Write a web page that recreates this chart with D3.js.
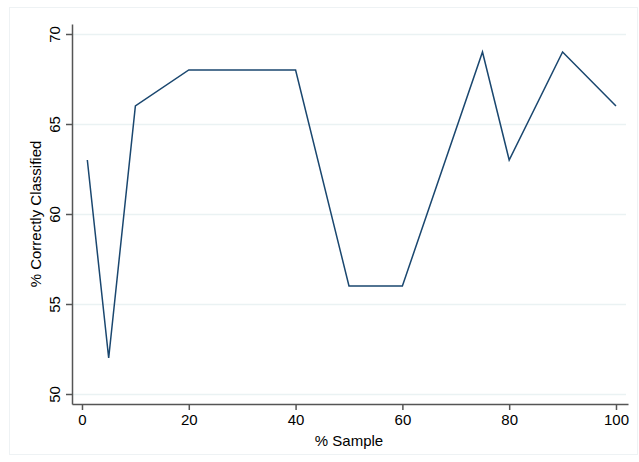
<!DOCTYPE html>
<html>
<head>
<meta charset="utf-8">
<script src="https://cdn.jsdelivr.net/npm/d3@7"></script>
<style>
  body { margin: 0; background: #fff; }
  text { font-family: "Liberation Sans", Arial, Helvetica, sans-serif; }
</style>
</head>
<body>
<div id="chart"></div>
<script>
// values
const samplePct = [1, 5, 10, 20, 30, 40, 50, 60, 75, 80, 90, 100];
const correctPct = [63, 52, 66, 68, 68, 68, 56, 56, 69, 63, 69, 66];
const xTicks = [0, 20, 40, 60, 80, 100];
const yTicks = [50, 55, 60, 65, 70];

const width = 639;
const height = 462;

// axis lines run a bit past the first/last ticks, like Stata does
const x = d3.scaleLinear()
    .domain([-1.87, 102.25])
    .range([72, 628]);

const y = d3.scaleLinear()
    .domain([50 - 10 / 18, 70 + 10 / 18])
    .range([404, 24]);

const svg = d3.select('#chart').append('svg')
    .attr('width', width)
    .attr('height', height);

// outer frame
svg.append('rect')
    .attr('x', 9.5)
    .attr('y', 7.5)
    .attr('width', 628)
    .attr('height', 447)
    .attr('fill', '#fff')
    .attr('stroke', '#eef2f4');

// grid
svg.append('g')
  .selectAll('line')
  .data(yTicks)
  .enter().append('line')
    .attr('x1', x.range()[0])
    .attr('x2', 626)
    .attr('y1', d => Math.round(y(d)) + 0.5)
    .attr('y2', d => Math.round(y(d)) + 0.5)
    .attr('stroke', '#eaf2f3')
    .attr('stroke-width', 1.5);

const yAxis = svg.append('g')
    .attr('transform', 'translate(72,0)')
    .call(d3.axisLeft(y).tickValues(yTicks).tickSize(6).tickSizeOuter(0).tickPadding(4));

// Stata writes y labels turned on their side
yAxis.selectAll('text')
    .attr('transform', 'rotate(-90)')
    .attr('x', 0)
    .attr('y', -12)
    .attr('dy', 0)
    .attr('text-anchor', 'middle')
    .attr('font-size', 15)
    .attr('fill', '#000');

const xAxis = svg.append('g')
    .attr('transform', 'translate(0,404)')
    .call(d3.axisBottom(x).tickValues(xTicks).tickSize(6).tickSizeOuter(0).tickPadding(4));

xAxis.selectAll('text')
    .attr('font-size', 15)
    .attr('fill', '#000');

svg.selectAll('.domain, .tick line')
    .attr('stroke', '#555')
    .attr('stroke-width', 1.5);

// axis titles
svg.append('text')
    .attr('transform', 'translate(41,214) rotate(-90)')
    .attr('text-anchor', 'middle')
    .attr('font-size', 15)
    .text('% Correctly Classified');

svg.append('text')
    .attr('x', (x(0) + x(100)) / 2)
    .attr('y', 446)
    .attr('text-anchor', 'middle')
    .attr('font-size', 15)
    .text('% Sample');

// the line
const line = d3.line()
    .x((d, i) => x(samplePct[i]))
    .y(d => y(d));

svg.append('path')
    .datum(correctPct)
    .attr('fill', 'none')
    .attr('stroke', '#1a476f')
    .attr('stroke-width', 1.5)
    .attr('stroke-linejoin', 'miter')
    .attr('d', line);
</script>
</body>
</html>
